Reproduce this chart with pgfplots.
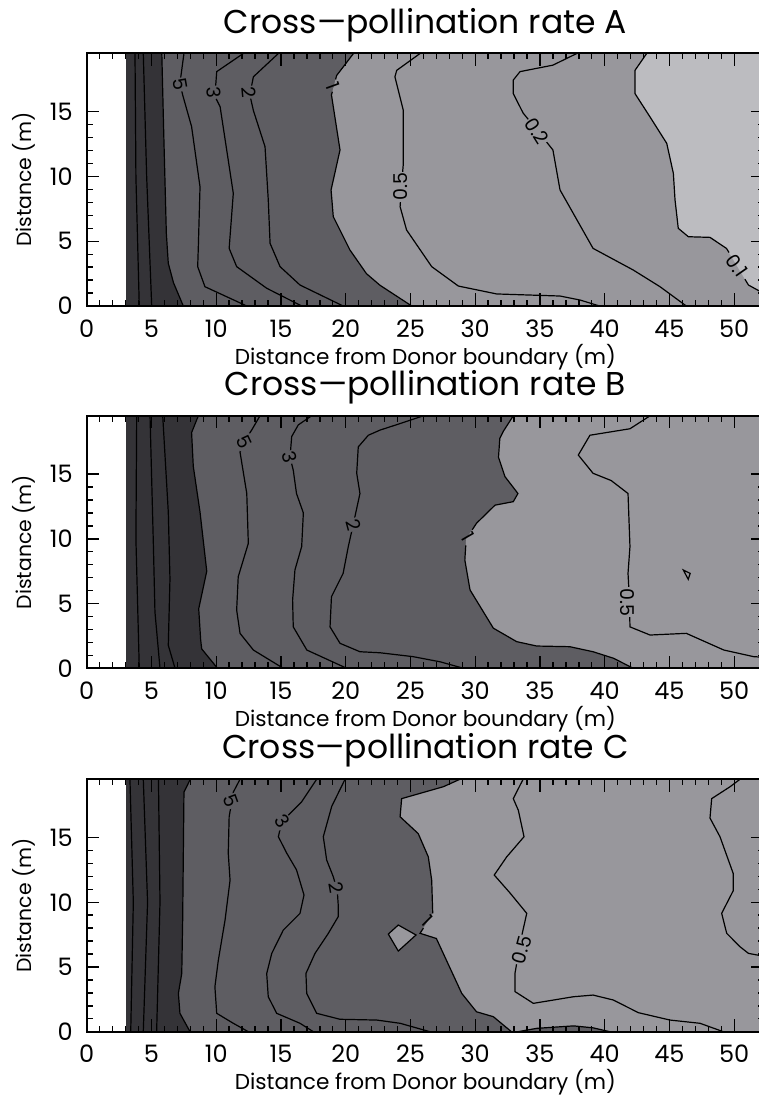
\documentclass[border=0pt]{standalone}
\usepackage{fontspec}
\setmainfont{Poppins}
\usepackage{pgfplots}
\pgfplotsset{compat=1.18}
\definecolor{cA}{HTML}{343337}
\definecolor{cB}{HTML}{5E5D62}
\definecolor{cC}{HTML}{98979C}
\definecolor{cD}{HTML}{BCBCC0}
\tikzset{lab/.style={font=\fontsize{9.5}{11}\selectfont, inner sep=0.5pt}}
\pgfplotsset{
  every axis title/.style={at={(0.5,1.0808)}, anchor=base, inner sep=0pt, font=\fontsize{16.5}{19}\selectfont},
  contourax/.style={
    scale only axis, width=338.65pt, height=126.25pt,
    xmin=0, xmax=52.3, ymin=0, ymax=19.5,
    xtick={0,5,...,50}, ytick={0,5,10,15},
    minor x tick num=4, minor y tick num=4,
    tick align=inside, tick pos=both, xticklabel pos=lower, yticklabel pos=left,
    major tick length=6.3pt, minor tick length=3pt,
    every tick/.style={black, line width=0.7pt},
    axis line style={line width=1pt},
    /pgf/number format/assume math mode=true,
    ticklabel style={font=\fontsize{12}{14}\selectfont},
    xticklabel style={anchor=base, yshift=-15.5pt, inner sep=0pt},
    yticklabel style={anchor=east, xshift=-6.85pt, inner sep=0pt},
    xlabel style={at={(axis description cs:0.5,-0.2297)}, anchor=base, inner sep=0pt, font=\fontsize{10.8}{13}\selectfont},
    ylabel style={at={(axis description cs:-0.0821,0.5)}, anchor=base, inner sep=0pt, font=\fontsize{10.2}{12}\selectfont},
    xlabel={Distance from Donor boundary (m)}, ylabel={Distance (m)},
    axis on top,
  },
  cl/.style={black, line width=0.6pt},
}
\begin{document}
\begin{tikzpicture}
% ---------------- Panel A ----------------
\begin{axis}[contourax, at={(43.35pt,-153pt)}, anchor=south west, title={Cross—pollination rate A}]
\addplot[fill=cA, draw=none] coordinates {(3,0) (3,19.5) (52.3,19.5) (52.3,0)} -- cycle;
\addplot[fill=cB, draw=none] coordinates {(5.8,19.5) (5.95,13.3) (6.15,5.6) (6.3,3.3) (6.7,1.8) (7.46,0) (52.3,0) (52.3,19.5)} -- cycle;
\addplot[fill=cC, draw=none] coordinates {(20.6,19.5) (19.3,17.8) (18.9,16.3) (19.56,12.05) (18.87,8.96) (19.04,6.9) (20.33,4.32) (21.6,2.5) (22.65,1.6) (25.1,0) (52.3,0) (52.3,19.5)} -- cycle;
\addplot[fill=cD, draw=none] coordinates {(43.24,19.5) (42.34,18.2) (42.34,16.4) (43.5,14.6) (44.79,12.56) (45.3,10.25) (45.43,8.19) (45.68,6.0) (46.46,5.35) (48.13,5.3) (49.4,4.45) (51.1,1.62) (51.9,1.18) (52.3,1.05) (52.3,19.5)} -- cycle;
% contour lines
\addplot[cl] coordinates {(3.73,19.5) (3.8,10) (4.06,0)};
\addplot[cl] coordinates {(4.37,19.5) (4.63,10) (5.02,0)};
\addplot[cl] coordinates {(5.8,19.5) (5.95,13.3) (6.15,5.6) (6.3,3.3) (6.7,1.8) (7.46,0)};
\addplot[cl] coordinates {(7.51,19.5) (7.2,17.2) (7.41,16.3) (8.1,13.85) (8.75,9.2) (8.62,4.58) (8.57,3.04) (9.13,1.49) (12.36,0)};
\addplot[cl] coordinates {(12.09,19.5) (10.04,18.1) (9.9,16.2) (10.3,15.4) (11.32,8.7) (11.0,4.45) (11.58,3.04) (13.9,1.37) (16.6,0)};
\addplot[cl] coordinates {(14.8,19.5) (12.87,17.7) (12.6,16.3) (12.87,15.1) (13.77,12.3) (14.02,8.2) (14.16,4.84) (14.93,3.04) (16.47,1.62) (19.8,0)};
\addplot[cl] coordinates {(20.6,19.5) (19.3,17.8) (19.22,17.5)};
\addplot[cl] coordinates {(18.97,16.55) (18.9,16.3) (19.56,12.05) (18.87,8.96) (19.04,6.9) (20.33,4.32) (21.6,2.5) (22.65,1.6) (25.1,0)};
\addplot[cl] coordinates {(25.74,19.5) (23.94,18.2) (23.8,17.7) (24.45,15.1) (24.45,11.0) (24.3,9.2) (24.2,7.67) (24.7,5.87) (26.64,3.04) (28.7,1.54) (31.66,0.93) (36.55,0.77) (38.1,0.46) (39.6,0)};
\addplot[cl] coordinates {(37.84,19.5) (36.0,18.6) (33.46,18.1) (32.94,17.45) (32.94,16.4) (33.7,14.9) (35.0,13.3) (36.0,12.05) (36.55,8.96) (39.1,4.45) (42.2,2.78) (44.27,1.49) (46.3,0)};
\addplot[cl] coordinates {(43.24,19.5) (42.34,18.2) (42.34,16.4) (43.5,14.6) (44.79,12.56) (45.3,10.25) (45.43,8.19) (45.68,6.0) (46.46,5.35) (48.13,5.3) (49.4,4.45) (49.6,4.13)};
\addplot[cl] coordinates {(50.83,2.07) (51.1,1.62) (51.9,1.18) (52.3,1.05)};
% labels
\node[lab, fill=cB, rotate=-80] at (axis cs:7.25,17.1) {5};
\node[lab, fill=cB, rotate=-85] at (axis cs:9.8,16.5) {3};
\node[lab, fill=cB, rotate=-85] at (axis cs:12.5,16.5) {2};
\node[lab, rotate=-70] at (axis cs:19.05,17.0) {1};
\node[lab, fill=cC, rotate=90] at (axis cs:24.25,9.2) {0.5};
\node[lab, fill=cC, rotate=-58] at (axis cs:34.75,13.5) {0.2};
\node[lab, rotate=-55] at (axis cs:50.21,3.1) {0.1};
\end{axis}
% ---------------- Panel B ----------------
\begin{axis}[contourax, at={(43.35pt,-334.15pt)}, anchor=south west, title={Cross—pollination rate B}]
\addplot[fill=cA, draw=none] coordinates {(3,0) (3,19.5) (52.3,19.5) (52.3,0)} -- cycle;
\addplot[fill=cB, draw=none] coordinates {(8.62,19.5) (8.1,18.2) (8.23,15.6) (8.75,12.07) (9.27,7.5) (8.65,4.6) (8.8,2.2) (8.88,1.5) (10.1,0) (52.3,0) (52.3,19.5)} -- cycle;
\addplot[fill=cC, draw=none] coordinates {(32.94,19.5) (32.17,18.3) (31.9,17.76) (31.8,16.3) (32.3,14.8) (33.3,13.5) (32.94,12.87) (31.53,12.6) (30.1,11.2) (29.3,10.0) (29.2,8.36) (29.6,6.05) (31.4,3.1) (33.2,2.06) (34.75,1.72) (37.3,1.67) (39.1,1.28) (40.7,0.77) (42.2,0) (52.3,0) (52.3,19.5)} -- cycle;
\addplot[cl] coordinates {(3.86,19.5) (3.8,10) (4.06,0)};
\addplot[cl] coordinates {(4.89,19.5) (5.15,9.5) (5.27,4.35) (5.66,0)};
\addplot[cl] coordinates {(5.87,19.5) (6.3,12.07) (6.43,6.9) (6.3,1.78) (6.82,0)};
\addplot[cl] coordinates {(8.62,19.5) (8.1,18.2) (8.23,15.6) (8.75,12.07) (9.27,7.5) (8.65,4.6) (8.8,2.2) (8.88,1.5) (10.1,0)};
\addplot[cl] coordinates {(13.38,19.5) (12.74,18.4) (12.2,17.6) (11.84,16.7) (12.36,13.5) (12.48,9.65) (11.7,7.07) (11.58,4.5) (11.84,2.7) (12.87,1.41) (15.18,0)};
\addplot[cl] coordinates {(17.37,19.5) (16.34,18.8) (15.83,17.9) (15.7,16.3) (15.95,15.3) (16.2,13.5) (16.73,12.0) (16.6,9.4) (16.08,7.6) (15.9,5.27) (15.95,3.2) (17.0,1.41) (20.08,0)};
\addplot[cl] coordinates {(26.0,19.5) (24.2,18.9) (22.66,18.4) (21.75,18.0) (20.97,17.1) (20.85,15.06) (21.1,13.5) (20.6,11.2) (20.2,9.4) (19.8,7.33) (18.9,5.53) (18.79,3.2) (19.56,1.93) (21.1,1.28) (22.65,1.2) (25.2,0.9) (27.3,0.5) (29.1,0)};
\addplot[cl] coordinates {(32.94,19.5) (32.17,18.3) (31.9,17.76) (31.8,16.3) (32.3,14.8) (33.3,13.5) (32.94,12.87) (31.53,12.6) (30.1,11.2) (29.77,10.7)};
\addplot[cl] coordinates {(29.27,9.5) (29.2,8.36) (29.6,6.05) (31.4,3.1) (33.2,2.06) (34.75,1.72) (37.3,1.67) (39.1,1.28) (40.7,0.77) (42.2,0)};
\addplot[cl] coordinates {(43.5,19.5) (41.95,18.5) (38.86,18.0) (37.96,16.47) (39.1,15.06) (40.5,14.5) (41.8,13.5) (41.95,9.4) (41.8,7.33) (41.9,5.5) (41.95,3.2) (43.5,2.57) (46.3,2.7) (49.2,1.41) (51.5,0.9) (52.3,0.85)};
\addplot[cl] coordinates {(46.07,7.59) (46.6,7.33) (46.45,6.87)} -- cycle;
\node[lab, fill=cB, rotate=-65] at (axis cs:12.2,17.5) {5};
\node[lab, fill=cB, rotate=-75] at (axis cs:15.7,16.3) {3};
\node[lab, fill=cB, rotate=-75] at (axis cs:20.6,11.1) {2};
\node[lab, rotate=-60] at (axis cs:29.45,10.15) {1};
\node[lab, fill=cC, rotate=-90] at (axis cs:41.75,5.1) {0.5};
\end{axis}
% ---------------- Panel C ----------------
\begin{axis}[contourax, at={(43.35pt,-515.85pt)}, anchor=south west, title={Cross—pollination rate C}]
\addplot[fill=cA, draw=none] coordinates {(3,0) (3,19.5) (52.3,19.5) (52.3,0)} -- cycle;
\addplot[fill=cB, draw=none] coordinates {(8.0,19.5) (7.51,18.5) (7.41,8.6) (7.34,4.5) (7.08,2.96) (7.2,1.42) (7.98,0) (52.3,0) (52.3,19.5)} -- cycle;
\addplot[fill=cC, draw=none] coordinates {(28.83,19.5) (27.54,18.92) (24.32,18.0) (24.2,16.6) (25.6,15.3) (26.38,13.5) (26.64,11.7) (26.72,9.14) (25.74,7.6) (27.0,7.2) (28.96,2.96) (30.1,1.54) (31.4,1.16) (32.8,0) (52.3,0) (52.3,19.5)} -- cycle;
\addplot[fill=cB, draw=none] coordinates {(33.3,0) (34.75,0.26) (37.6,0.45) (39.1,0.3) (40.4,0)} -- cycle;
\addplot[fill=cC, draw=none] coordinates {(23.29,7.54) (24.06,8.24) (25.43,7.47) (24.06,6.23)} -- cycle;
\addplot[cl] coordinates {(3.34,19.5) (3.6,10) (3.4,0)};
\addplot[cl] coordinates {(4.37,19.5) (4.7,10) (4.37,0)};
\addplot[cl] coordinates {(5.54,19.5) (5.66,10) (5.4,0)};
\addplot[cl] coordinates {(8.0,19.5) (7.51,18.5) (7.41,8.6) (7.34,4.5) (7.08,2.96) (7.2,1.42) (7.98,0)};
\addplot[cl] coordinates {(11.84,19.5) (11.32,18.5) (11.0,16.6) (10.93,13.8) (11.07,11.7) (10.68,8.6) (10.16,5.5) (9.9,3.47) (10.04,1.42) (11.32,0.65) (12.48,0)};
\addplot[cl] coordinates {(17.76,19.5) (16.6,17.76) (15.06,16.2) (14.8,15.06) (15.44,13.8) (16.2,12.5) (16.78,10.56) (16.47,9.14) (15.18,7.85) (14.29,6.05) (13.9,4.5) (14.02,2.7) (14.67,1.42) (16.47,0.65) (17.5,0)};
\addplot[cl] coordinates {(19.95,19.5) (18.92,17.4) (18.27,15.06) (18.53,13.26) (19.04,11.97) (19.35,10.9) (19.43,9.65) (19.43,8.9) (18.66,7.6) (17.63,6.05) (16.93,4.5) (16.99,2.96) (17.76,1.42) (19.56,0.96) (22.4,0.9) (24.2,0.65) (26.5,0)};
\addplot[cl] coordinates {(28.83,19.5) (27.54,18.92) (24.32,18.0) (24.2,16.6) (25.6,15.3) (26.38,13.5) (26.64,11.7) (26.72,9.14)};
\addplot[cl] coordinates {(26.0,8.0) (25.74,7.6) (27.0,7.2) (28.96,2.96) (30.1,1.54) (31.4,1.16) (32.8,0)};
\addplot[cl] coordinates {(33.3,0) (34.75,0.26) (37.6,0.45) (39.1,0.3) (40.4,0)};
\addplot[cl] coordinates {(23.29,7.54) (24.06,8.24) (25.43,7.47) (24.06,6.23)} -- cycle;
\addplot[cl] coordinates {(33.7,19.5) (32.94,18.0) (33.33,17.1) (33.77,15.06) (32.43,13.5) (31.47,12.1) (32.7,10.7) (33.98,9.14) (33.5,7.0) (33.07,4.5) (33.07,3.1) (34.49,2.19) (37.58,2.7) (39.1,2.83) (40.66,2.45) (42.6,1.47) (45.04,0.9) (47.36,0.65) (49.16,0)};
\addplot[cl] coordinates {(50.45,19.5) (49.68,18.92) (48.26,18.0) (48.13,16.5) (48.9,15.06) (49.93,12.2) (49.93,10.9) (49.03,9.14) (49.42,7.6) (50.45,6.56) (51.1,6.05) (51.9,5.9) (52.3,5.85)};
\node[lab, fill=cB, rotate=-70] at (axis cs:11.15,17.8) {5};
\node[lab, fill=cB, rotate=-55] at (axis cs:15.1,16.3) {3};
\node[lab, fill=cB, rotate=-80] at (axis cs:19.3,11.1) {2};
\node[lab, rotate=-45] at (axis cs:26.3,8.55) {1};
\node[lab, fill=cC, rotate=75] at (axis cs:33.6,6.3) {0.5};
\end{axis}
\pgfresetboundingbox
\path (0,0) rectangle (379.5pt,-548pt);
\end{tikzpicture}
\end{document}
